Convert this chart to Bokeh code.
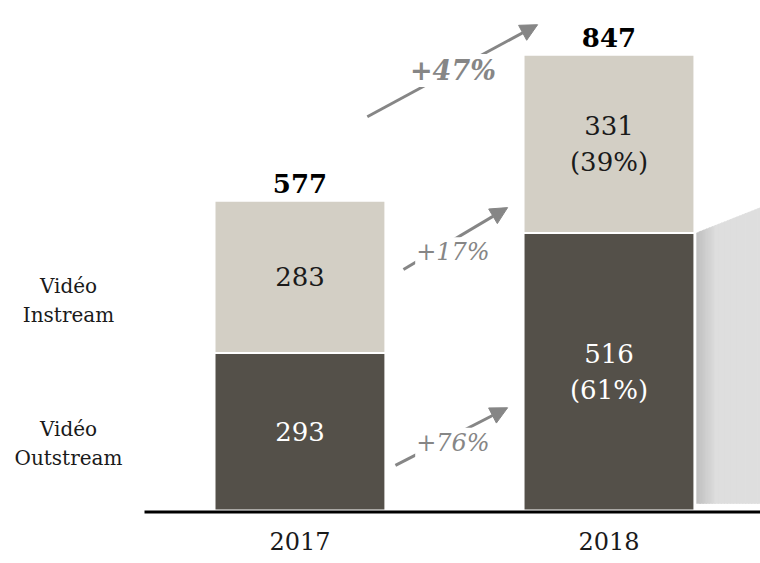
from bokeh.plotting import figure
from bokeh.models import Range1d, Arrow, NormalHead, Label
from bokeh.core.properties import value
from bokeh.embed import file_html
from bokeh.resources import INLINE

# ---- data ----
years = ["2017", "2018"]
outstream = [293, 516]
instream = [283, 331]
totals = [577, 847]
share_2018 = [61, 39]  # outstream, instream (%)
growth = [76, 17, 47]  # outstream, instream, total (%)
series_names = ["Vidéo\nInstream", "Vidéo\nOutstream"]

# ---- style / layout ----
FONT = "DejaVu Serif"
DARK = "#545049"
LIGHT = "#d3cfc5"
GRAY = "#868686"
BAR_W = 0.553
xs = list(range(len(years)))
tops = [o + i for o, i in zip(outstream, instream)]

p = figure(width=760, height=563, output_backend="svg", toolbar_location=None,
           x_range=Range1d(-0.969, 1.4903), y_range=Range1d(-98.5, 948.0),
           min_border=0)
p.axis.visible = False
p.grid.visible = False
p.outline_line_color = None
p.background_fill_color = "white"

# shadow (gradient approximated with strips) to the right of 2018 bar
x_left = xs[1] + BAR_W / 2 + 0.007
n = 22
strip = 0.0098
def shade(i):
    t = min(i / 6.0, 1.0)
    c = int(194 + (222 - 194) * t)
    return "#%02x%02x%02x" % (c, c, c)
px, py, pc = [], [], []
for i in range(n):
    a = x_left + i * strip
    b = a + strip + 0.004
    top_a = outstream[1] + (a - x_left) * 227
    top_b = outstream[1] + (b - x_left) * 227
    px.append([a, a, b, b])
    py.append([13, top_a, top_b, 13])
    pc.append(shade(i))
p.patches(px, py, fill_color=pc, line_color=pc, line_width=0.5)

# stacked bars
p.vbar(x=xs, top=outstream, bottom=0, width=BAR_W, fill_color=DARK,
       line_color="white", line_width=2)
p.vbar(x=xs, top=tops, bottom=outstream, width=BAR_W, fill_color=LIGHT,
       line_color="white", line_width=2)

# baseline
p.line(x=[-0.503, 1.5], y=[-2.8, -2.8], line_color="black", line_width=3)

# value labels inside bars
out_txt = [str(outstream[0]), "%d\n(%d%%)" % (outstream[1], share_2018[0])]
in_txt = [str(instream[0]), "%d\n(%d%%)" % (instream[1], share_2018[1])]
p.text(x=xs, y=[v / 2 for v in outstream], text=out_txt, text_color="white",
       text_font=value(FONT), text_font_size="26px", text_align="center",
       text_baseline="middle", text_line_height=1.2)
p.text(x=xs, y=[o + i / 2 for o, i in zip(outstream, instream)], text=in_txt,
       text_color="#1a1a1a", text_font=value(FONT), text_font_size="26px",
       text_align="center", text_baseline="middle", text_line_height=1.2)

# totals
p.text(x=xs, y=tops, text=[str(t) for t in totals], text_color="black",
       text_font=value(FONT), text_font_size="26px", text_font_style="bold",
       text_align="center", text_baseline="bottom", y_offset=-8)

# year labels
p.text(x=xs, y=[-56, -56], text=years, text_color="#1a1a1a",
       text_font=value(FONT), text_font_size="24px", text_align="center",
       text_baseline="middle")

# series labels on the left
p.text(x=[-0.749, -0.749], y=[390, 124], text=series_names, text_color="#1a1a1a",
       text_font=value(FONT), text_font_size="20px", text_align="center",
       text_baseline="middle", text_line_height=1.2)

# growth arrows
arrows = [
    (0.309, 84, 0.672, 191, 126, "+%d%%" % growth[0], "italic", "24px"),
    (0.335, 448, 0.672, 563, 480, "+%d%%" % growth[1], "italic", "24px"),
    (0.218, 732, 0.769, 903, 818, "+%d%%" % growth[2], "bold italic", "27px"),
]
for x0, y0, x1, y1, ty, txt, style, size in arrows:
    p.add_layout(Arrow(x_start=x0, y_start=y0, x_end=x1, y_end=y1,
                       line_color=GRAY, line_width=3,
                       end=NormalHead(size=17, fill_color=GRAY, line_color=GRAY)))
for x0, y0, x1, y1, ty, txt, style, size in arrows:
    p.add_layout(Label(x=0.495, y=ty, text=txt, text_color=GRAY,
                       text_font=FONT, text_font_size=size, text_font_style=style,
                       text_align="center", text_baseline="middle",
                       background_fill_color="white", padding=1))

open("out.html", "w").write(file_html(p, INLINE))
